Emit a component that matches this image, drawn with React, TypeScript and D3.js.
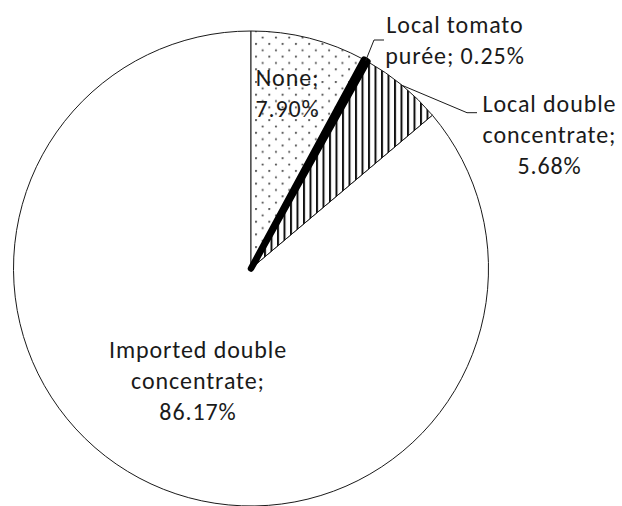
import React from "react";
import * as d3 from "d3";

// Share of households by tomato product used (%)
const categories = [
  "None",
  "Local tomato purée",
  "Local double concentrate",
  "Imported double concentrate",
];
const shares = [7.9, 0.25, 5.68, 86.17];

const W = 622;
const H = 506;
const cx = 251;
const cy = 268.5;
const R = 237.5;

const sliceStyles = [
  { fill: "url(#dots)", stroke: "#1a1a1a", width: 1 },
  { fill: "#000", stroke: "#000", width: 6.5 },
  { fill: "url(#vlines)", stroke: "#1a1a1a", width: 1 },
  { fill: "#fff", stroke: "#1a1a1a", width: 1 },
];

// label placement: centre x, first baseline, wrap width in characters, leader elbow
const labelLayout = [
  { x: 287.5, y: 86, wrap: 5, elbow: null as null | [number, number], endX: 0 },
  { x: 455, y: 33, wrap: 12, elbow: [374, 40] as [number, number], endX: 384 },
  { x: 549.5, y: 112, wrap: 12, elbow: [467, 112.7] as [number, number], endX: 477 },
  { x: 198, y: 358, wrap: 15, elbow: null as null | [number, number], endX: 0 },
];
const lineHeight = 31;

function wrapWords(text: string, maxChars: number): string[] {
  const words = text.split(" ");
  const lines: string[] = [];
  let cur = "";
  for (const w of words) {
    const next = cur ? cur + " " + w : w;
    if (cur && next.length > maxChars) {
      lines.push(cur);
      cur = w;
    } else {
      cur = next;
    }
  }
  if (cur) lines.push(cur);
  return lines;
}

export default function App() {
  const pie = d3
    .pie<number>()
    .sort(null)
    .value((d) => d)(shares);
  const arc = d3.arc<d3.PieArcDatum<number>>().innerRadius(0).outerRadius(R);
  const rim = d3.arc<d3.PieArcDatum<number>>().innerRadius(R).outerRadius(R);

  // draw the thin black slice last so its heavy outline sits on top
  const order = [3, 0, 2, 1];

  return (
    <svg
      width={W}
      height={H}
      style={{ position: "absolute", left: 0, top: 0, background: "#fff" }}
      fontFamily="Carlito, Calibri, Lato, sans-serif"
    >
      <defs>
        <pattern id="dots" width={13.3} height={12.7} patternUnits="userSpaceOnUse" x={4} y={3}>
          <rect width={13.3} height={12.7} fill="#fff" />
          <circle cx={1} cy={1} r={1.1} fill="#555" />
          <circle cx={7.65} cy={7.35} r={1.1} fill="#555" />
        </pattern>
        <pattern id="vlines" width={6.5} height={10} patternUnits="userSpaceOnUse" x={0} y={0}>
          <rect width={6.5} height={10} fill="#fff" />
          <rect x={0} y={0} width={2} height={10} fill="#111" />
        </pattern>
      </defs>
      <g transform={`translate(${cx},${cy})`}>
        {order.map((i) => (
          <path
            key={i}
            d={arc(pie[i]) || ""}
            fill={sliceStyles[i].fill}
            stroke={sliceStyles[i].stroke}
            strokeWidth={sliceStyles[i].width}
            strokeLinejoin="round"
          />
        ))}
      </g>
      {pie.map((p, i) => {
        const lay = labelLayout[i];
        if (!lay.elbow) return null;
        const [sx, sy] = rim.centroid(p);
        return (
          <polyline
            key={"l" + i}
            points={`${cx + sx},${cy + sy} ${lay.elbow[0]},${lay.elbow[1]} ${lay.endX},${lay.elbow[1]}`}
            fill="none"
            stroke="#1a1a1a"
            strokeWidth={1}
          />
        );
      })}
      {categories.map((c, i) => {
        const lay = labelLayout[i];
        const text = `${c}; ${shares[i].toFixed(2)}%`;
        const lines = wrapWords(text, lay.wrap);
        return (
          <text
            key={"t" + i}
            x={lay.x}
            y={lay.y}
            textAnchor="middle"
            fontSize={24}
            letterSpacing={0.9}
            fill="#1a1a1a"
          >
            {lines.map((ln, k) => (
              <tspan key={k} x={lay.x} y={lay.y + k * lineHeight}>
                {ln}
              </tspan>
            ))}
          </text>
        );
      })}
    </svg>
  );
}
